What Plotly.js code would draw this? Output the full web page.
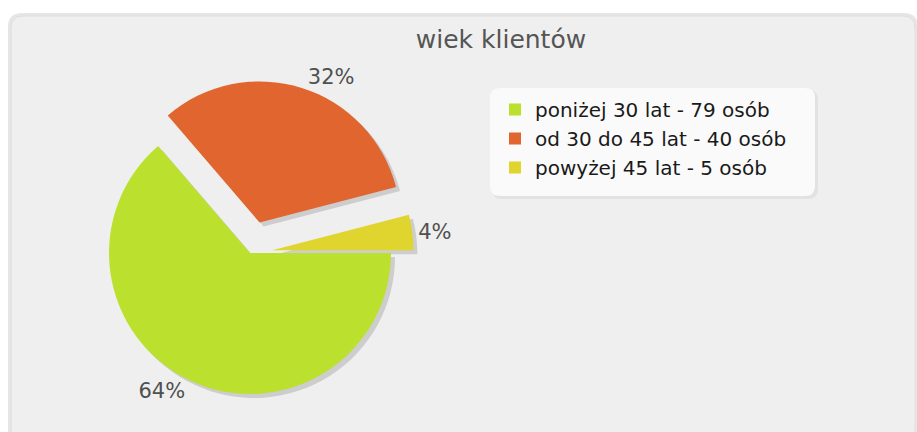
<!DOCTYPE html>
<html>
<head>
<meta charset="utf-8">
<script src="https://cdn.plot.ly/plotly-3.0.1.min.js"></script>
<style>html,body{margin:0;padding:0;background:#fff;}#chart{width:917px;height:432px;}</style>
</head>
<body>
<div id="chart"></div>
<script>
const chartTitle = 'wiek klientów';
const categories = ['poniżej 30 lat - 79 osób', 'od 30 do 45 lat - 40 osób', 'powyżej 45 lat - 5 osób'];
const counts = [79, 40, 5];
const sliceColors = ['#bce02e', '#e0652e', '#e0d42e'];
const pulls = [0, 0.227, 0.16];

const W = 917, H = 432;
const px = x => x / W;
const py = y => 1 - y / H;

// pie placement (pixels)
const cx = 250, cy = 253, r = 141;
const maxPull = Math.max(...pulls);
const half = r * (1 + maxPull);
function dom(dx, dy) {
  return {
    x: [px(cx + dx - half), px(cx + dx + half)],
    y: [py(cy + dy + half), py(cy + dy - half)]
  };
}

function roundRect(x0, y0, x1, y1, rad) {
  const P = (x, y) => px(x) + ',' + py(y);
  return 'M' + P(x0 + rad, y0) + ' L' + P(x1 - rad, y0) + ' Q' + P(x1, y0) + ' ' + P(x1, y0 + rad) +
    ' L' + P(x1, y1 - rad) + ' Q' + P(x1, y1) + ' ' + P(x1 - rad, y1) +
    ' L' + P(x0 + rad, y1) + ' Q' + P(x0, y1) + ' ' + P(x0, y1 - rad) +
    ' L' + P(x0, y0 + rad) + ' Q' + P(x0, y0) + ' ' + P(x0 + rad, y0) + ' Z';
}

const shadow = {
  type: 'pie', values: counts, labels: categories, sort: false,
  direction: 'clockwise', rotation: 90, pull: pulls,
  marker: {colors: categories.map(() => '#cdcdcd')},
  textinfo: 'none', hoverinfo: 'skip', showlegend: false,
  domain: dom(4, 4)
};

const main = {
  type: 'pie', values: counts, labels: categories, sort: false,
  direction: 'clockwise', rotation: 90, pull: pulls,
  marker: {colors: sliceColors},
  texttemplate: '%{percent:.0%}', textposition: 'outside',
  outsidetextfont: {family: 'DejaVu Sans, Verdana, sans-serif', size: 21, color: '#505050'},
  hoverinfo: 'label+percent',
  domain: dom(0, 0)
};

const layout = {
  width: W, height: H,
  margin: {l: 0, r: 0, t: 0, b: 0},
  paper_bgcolor: '#ffffff',
  title: {
    text: chartTitle, x: px(501), xanchor: 'center', xref: 'paper',
    y: py(39), yanchor: 'middle', yref: 'container',
    font: {family: 'DejaVu Sans, sans-serif', size: 25, color: '#555555'}
  },
  showlegend: true,
  legend: {
    x: px(495), xanchor: 'left', y: py(90), yanchor: 'top',
    bgcolor: 'rgba(0,0,0,0)', borderwidth: 0,
    font: {family: 'DejaVu Sans, Verdana, sans-serif', size: 20, color: '#1a1a1a'}
  },
  shapes: [
    {type: 'path', xref: 'paper', yref: 'paper', layer: 'below', path: roundRect(8, 13, 918, 445, 14),
     fillcolor: '#e6e6e6', line: {width: 0}},
    {type: 'path', xref: 'paper', yref: 'paper', layer: 'below', path: roundRect(11, 16, 915, 442, 12),
     fillcolor: '#efefef', line: {color: '#dedede', width: 1}},
    {type: 'path', xref: 'paper', yref: 'paper', layer: 'below', path: roundRect(492, 90, 818, 199, 10),
     fillcolor: '#e2e2e2', line: {width: 0}},
    {type: 'path', xref: 'paper', yref: 'paper', layer: 'below', path: roundRect(490, 88, 815, 196, 10),
     fillcolor: '#fafafa', line: {width: 0}}
  ]
};

Plotly.newPlot('chart', [shadow, main], layout, {displayModeBar: false, staticPlot: true});
</script>
</body>
</html>
